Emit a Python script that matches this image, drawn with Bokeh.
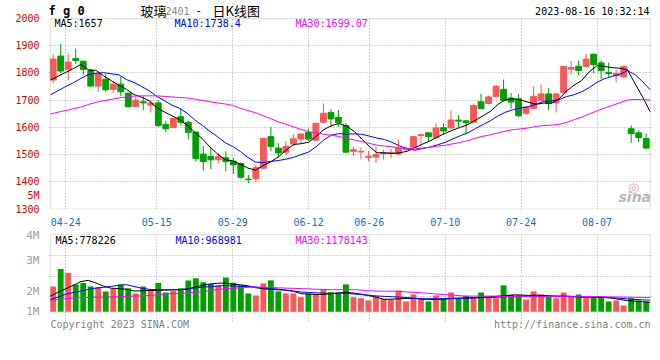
from bokeh.plotting import figure
from bokeh.layouts import column
from bokeh.models import Range1d, FixedTicker, Label, ColumnDataSource, BoxAnnotation
from bokeh.embed import file_html
from bokeh.resources import INLINE

# ---------------- data ----------------
open_ = [1774, 1862, 1814, 1853, 1843, 1809, 1752, 1777, 1740, 1759,
         1726, 1677, 1694, 1682, 1690, 1611, 1599, 1639, 1619, 1583,
         1502, 1493, 1481, 1488, 1476, 1467, 1410, 1411, 1450, 1566,
         1524, 1509, 1540, 1557, 1581, 1553, 1619, 1655, 1637, 1607,
         1512, 1510, 1490, 1491, 1503, 1504, 1502, 1520, 1527, 1570,
         1580, 1562, 1599, 1598, 1627, 1624, 1619, 1694, 1688, 1714,
         1740, 1708, 1705, 1652, 1670, 1700, 1723, 1690, 1728, 1814,
         1825, 1824, 1869, 1837, 1802, 1790, 1786, 1595, 1580, 1559]
high = [1869, 1907, 1869, 1890, 1846, 1815, 1803, 1794, 1768, 1786,
        1726, 1711, 1714, 1700, 1700, 1625, 1633, 1670, 1625, 1583,
        1532, 1530, 1506, 1512, 1488, 1470, 1426, 1462, 1560, 1601,
        1542, 1550, 1574, 1576, 1595, 1615, 1688, 1667, 1664, 1615,
        1530, 1526, 1514, 1530, 1518, 1521, 1554, 1530, 1566, 1577,
        1580, 1615, 1615, 1663, 1645, 1627, 1687, 1723, 1717, 1756,
        1776, 1726, 1723, 1675, 1750, 1758, 1744, 1726, 1827, 1845,
        1845, 1869, 1869, 1845, 1838, 1812, 1827, 1607, 1589, 1577]
low = [1762, 1798, 1774, 1833, 1794, 1748, 1730, 1732, 1726, 1714,
       1673, 1677, 1663, 1655, 1601, 1583, 1599, 1607, 1556, 1474,
       1441, 1446, 1467, 1438, 1429, 1411, 1395, 1399, 1446, 1512,
       1490, 1500, 1530, 1542, 1550, 1548, 1613, 1601, 1601, 1506,
       1496, 1482, 1476, 1470, 1482, 1488, 1500, 1512, 1524, 1536,
       1548, 1560, 1574, 1595, 1601, 1574, 1619, 1667, 1685, 1712,
       1696, 1669, 1639, 1646, 1667, 1696, 1663, 1655, 1726, 1794,
       1792, 1821, 1798, 1777, 1786, 1765, 1782, 1542, 1545, 1521]
close = [1851, 1807, 1840, 1846, 1813, 1752, 1797, 1738, 1759, 1731,
         1676, 1700, 1690, 1690, 1607, 1595, 1633, 1619, 1581, 1485,
         1474, 1481, 1492, 1474, 1462, 1417, 1408, 1452, 1560, 1530,
         1506, 1530, 1558, 1576, 1557, 1615, 1652, 1631, 1617, 1509,
         1518, 1512, 1494, 1500, 1508, 1507, 1524, 1523, 1566, 1573,
         1566, 1598, 1587, 1627, 1623, 1617, 1680, 1669, 1712, 1751,
         1699, 1693, 1643, 1675, 1714, 1723, 1688, 1723, 1824, 1820,
         1809, 1851, 1831, 1809, 1798, 1798, 1824, 1577, 1563, 1524]

ma5 = [1774, 1788, 1802, 1816, 1831.4, 1811.6, 1809.6, 1789.2, 1771.8, 1755.4,
       1740.2, 1720.8, 1711.2, 1697.4, 1672.6, 1656.4, 1643.0, 1628.8, 1607.0, 1582.6,
       1558.4, 1528.0, 1502.6, 1481.2, 1476.6, 1465.2, 1450.6, 1442.6, 1459.8, 1473.4,
       1491.2, 1515.6, 1536.8, 1540.0, 1545.4, 1567.2, 1591.6, 1606.2, 1614.4, 1604.8,
       1585.4, 1557.4, 1530.0, 1506.6, 1506.4, 1504.2, 1506.6, 1512.4, 1525.6, 1538.6,
       1550.4, 1565.2, 1578.0, 1590.2, 1600.2, 1610.4, 1626.8, 1643.2, 1660.2, 1685.8,
       1702.2, 1704.8, 1699.6, 1692.2, 1684.8, 1689.6, 1688.6, 1704.6, 1734.4, 1755.6,
       1772.8, 1805.4, 1827.0, 1824.0, 1819.6, 1817.4, 1812.0, 1761.2, 1712.0, 1657.2]
ma10 = [1720, 1735, 1750, 1764, 1780, 1794, 1799, 1801, 1797, 1793.4,
        1775.9, 1765.2, 1750.2, 1734.6, 1714.0, 1698.3, 1681.9, 1670.0, 1652.2, 1627.6,
        1607.4, 1585.5, 1565.7, 1544.1, 1529.6, 1511.8, 1489.3, 1472.6, 1470.5, 1475.0,
        1478.2, 1483.1, 1489.7, 1499.9, 1509.4, 1529.2, 1553.6, 1571.5, 1577.2, 1575.1,
        1576.3, 1574.5, 1568.1, 1560.5, 1555.6, 1544.8, 1532.0, 1521.2, 1516.1, 1522.5,
        1527.3, 1535.9, 1545.2, 1557.9, 1569.4, 1580.4, 1596.0, 1610.6, 1625.2, 1643.0,
        1656.3, 1665.8, 1671.4, 1676.2, 1685.3, 1695.9, 1696.7, 1702.1, 1713.3, 1720.2,
        1731.2, 1747.0, 1765.8, 1779.2, 1787.6, 1795.1, 1808.7, 1794.1, 1768.0, 1738.4]
ma30 = [1649, 1656, 1662, 1668, 1675, 1684, 1692, 1698, 1703, 1708,
        1712, 1715, 1716, 1716, 1716, 1714, 1712, 1710, 1708, 1704,
        1699, 1694, 1690, 1686, 1681, 1670, 1662, 1654, 1643, 1632.0,
        1620.5, 1611.3, 1601.9, 1592.9, 1584.3, 1579.8, 1574.9, 1571.4, 1566.6, 1559.2,
        1554.0, 1547.7, 1541.2, 1534.8, 1531.5, 1528.6, 1525.0, 1521.8, 1521.3, 1524.2,
        1527.3, 1531.2, 1534.3, 1539.4, 1544.8, 1551.5, 1560.5, 1567.8, 1572.8, 1580.2,
        1586.6, 1592.1, 1594.9, 1598.2, 1603.4, 1607.0, 1608.2, 1611.3, 1618.2, 1628.6,
        1638.3, 1649.6, 1660.8, 1671.1, 1680.8, 1690.5, 1700.5, 1702.3, 1702.2, 1700.5]

# volume, millions of lots
volume = [2.10, 3.54, 3.21, 2.27, 2.38, 2.10, 2.05, 1.69, 1.91, 2.27,
          1.96, 1.52, 2.10, 1.77, 2.38, 1.60, 1.75, 1.96, 2.60, 2.77,
          2.44, 2.30, 2.19, 2.85, 2.41, 2.19, 1.52, 1.35, 2.35, 2.60,
          1.69, 1.52, 1.52, 1.21, 1.52, 1.46, 1.85, 1.63, 1.50, 2.27,
          1.21, 1.13, 0.94, 1.27, 1.08, 1.02, 1.77, 0.86, 1.44, 1.08,
          0.86, 1.35, 1.08, 1.60, 1.08, 1.30, 1.21, 1.60, 1.21, 1.13,
          2.19, 1.41, 1.35, 1.02, 1.69, 1.44, 1.27, 1.13, 1.60, 1.27,
          1.44, 1.27, 1.21, 1.27, 0.86, 0.94, 0.52, 1.13, 0.94, 0.86]
vol_ma5 = [1.30, 1.62, 1.90, 2.19, 2.50, 2.60, 2.38, 2.12, 1.95, 1.92,
           1.86, 1.72, 1.74, 1.77, 1.77, 1.79, 1.82, 1.84, 1.86, 2.05,
           2.19, 2.30, 2.36, 2.38, 2.28, 2.24, 2.15, 2.00, 1.91, 1.86,
           1.82, 1.79, 1.70, 1.50, 1.47, 1.44, 1.44, 1.50, 1.57, 1.60,
           1.55, 1.45, 1.33, 1.20, 1.02, 1.05, 1.08, 1.10, 1.12, 1.05,
           1.02, 1.02, 1.05, 1.12, 1.14, 1.15, 1.18, 1.21, 1.24, 1.30,
           1.33, 1.40, 1.39, 1.36, 1.38, 1.35, 1.31, 1.28, 1.27, 1.25,
           1.22, 1.21, 1.21, 1.18, 1.12, 1.02, 0.92, 0.88, 0.84, 0.78]
vol_ma10 = [1.02, 1.22, 1.45, 1.60, 1.72, 1.85, 1.96, 2.03, 2.10, 2.20,
            2.25, 2.10, 1.95, 1.86, 1.84, 1.83, 1.83, 1.83, 1.91, 1.97,
            2.04, 2.08, 2.13, 2.18, 2.14, 2.10, 2.10, 2.05, 1.98, 1.93,
            1.88, 1.80, 1.72, 1.64, 1.60, 1.57, 1.55, 1.51, 1.54, 1.53,
            1.47, 1.42, 1.37, 1.31, 1.28, 1.25, 1.22, 1.18, 1.10, 1.08,
            1.08, 1.08, 1.09, 1.10, 1.11, 1.13, 1.15, 1.17, 1.19, 1.21,
            1.25, 1.28, 1.30, 1.30, 1.30, 1.30, 1.30, 1.30, 1.30, 1.27,
            1.24, 1.21, 1.21, 1.21, 1.17, 1.12, 1.07, 1.02, 0.99, 0.97]
vol_ma30 = [0.94, 1.02, 1.09, 1.14, 1.17, 1.19, 1.21, 1.21, 1.22, 1.24,
            1.27, 1.30, 1.32, 1.35, 1.40, 1.47, 1.51, 1.53, 1.56, 1.61,
            1.65, 1.75, 1.85, 1.92, 1.95, 1.98, 2.02, 2.05, 2.03, 2.01,
            1.99, 1.96, 1.94, 1.92, 1.90, 1.87, 1.85, 1.83, 1.83, 1.83,
            1.83, 1.80, 1.74, 1.71, 1.71, 1.71, 1.69, 1.64, 1.61, 1.57,
            1.52, 1.46, 1.42, 1.38, 1.33, 1.30, 1.30, 1.30, 1.30, 1.29,
            1.27, 1.26, 1.25, 1.25, 1.25, 1.25, 1.25, 1.25, 1.25, 1.25,
            1.25, 1.25, 1.25, 1.24, 1.23, 1.22, 1.21, 1.20, 1.19, 1.18]

tick_idx = [2, 14, 24, 34, 42, 52, 62, 72]
tick_dates = ["04-24", "05-15", "05-29", "06-12", "06-26", "07-10", "07-24", "08-07"]
price_ticks = [1300, 1400, 1500, 1600, 1700, 1800, 1900, 2000]
vol_tick_labels = ["1M", "2M", "3M", "4M"]
stray_label = "5M"

ma_labels_price = ["MA5:1657", "MA10:1738.4", "MA30:1699.07"]
ma_labels_vol = ["MA5:778226", "MA10:968981", "MA30:1178143"]

# ---------------- styling / layout ----------------
MONO = "DejaVu Sans Mono"
CJK = "Noto Sans CJK SC"
RED = "#fa5757"
GREEN = "#00a000"
GRID = "#a8a8a8"
FRAME = "#a0a0a0"
MA_COLORS = ["#000000", "#0000ff", "#ff00ff"]

n = len(close)
idx = list(range(n))
colors = [RED if c >= o else GREEN for o, c in zip(open_, close)]
src = ColumnDataSource(dict(
    x=idx, h=high, l=low,
    top=[max(o, c) for o, c in zip(open_, close)],
    bot=[min(o, c) for o, c in zip(open_, close)],
    vol=volume, color=colors))

# frame spans px 48..652; line scale (MA lines, grid) and candle scale differ slightly
LINE_RANGE = (-0.2635, n - 1 + 0.303)
CANDLE_RANGE = (-0.626, n - 1 + 0.84)
P_RANGE = (1298.2, 2066.4)      # price axis: frame px 0..214 of the top canvas
VMAX = 6.4
V_RANGE = (-4.032, 6.897)       # volume axis: frame px 228..360 of the page

FX0, FX1 = 48, 652


def X(px):
    return LINE_RANGE[0] + (px - FX0) / (FX1 - FX0) * (LINE_RANGE[1] - LINE_RANGE[0])


def Y1(py):
    return P_RANGE[1] - py / 214 * (P_RANGE[1] - P_RANGE[0])


def Y2(py):
    return V_RANGE[1] - (py - 228) / 132 * (V_RANGE[1] - V_RANGE[0])


def lab(p, x, y, text, color="black", size="10px", align="left", font=MONO, style="normal"):
    p.add_layout(Label(x=x, y=y, text=text, text_color=color, text_font_size=size,
                       text_align=align, text_baseline="middle", text_font=font,
                       text_font_style=style))


# ---------------- main (price) panel ----------------
p1 = figure(width=660, height=228, x_range=Range1d(*LINE_RANGE), y_range=Range1d(*P_RANGE),
            output_backend="svg", toolbar_location=None,
            min_border_left=FX0, min_border_right=660 - FX1, min_border_top=0, min_border_bottom=14,
            background_fill_color="white", border_fill_color="white")
p1.extra_x_ranges = {"c": Range1d(*CANDLE_RANGE)}
p1.outline_line_color = None

p1.segment(x0="x", y0="h", x1="x", y1="l", line_color="color", line_width=1,
           source=src, x_range_name="c")
p1.vbar(x="x", width=0.78, top="top", bottom="bot", fill_color="color",
        line_color="color", line_width=1, source=src, x_range_name="c")
for series, col in zip([ma5, ma10, ma30], MA_COLORS):
    p1.line(idx, series, line_color=col, line_width=1)

p1.xgrid.ticker = FixedTicker(ticks=tick_idx)
p1.xgrid.cross_bounds = (price_ticks[0], price_ticks[-1])
p1.ygrid.ticker = FixedTicker(ticks=price_ticks[1:-1])
for g in (p1.xgrid, p1.ygrid):
    g.grid_line_color = GRID
    g.grid_line_dash = "1 2"
    g.grid_line_width = 1
p1.add_layout(BoxAnnotation(left=0, right=n - 1, bottom=price_ticks[0], top=price_ticks[-1],
                            fill_color=None, line_color=FRAME, line_width=1.2))

stray_pos = round(Y1(200), 1)
y_ticks = sorted(price_ticks + [stray_pos])
y_overrides = {t: str(t) for t in price_ticks}
y_overrides[stray_pos] = stray_label
ya = p1.yaxis[0]
ya.ticker = FixedTicker(ticks=y_ticks)
ya.major_label_overrides = y_overrides
ya.axis_line_color = None
ya.major_tick_line_color = None
ya.minor_tick_line_color = None
ya.major_label_text_color = "#e00000"
ya.major_label_text_font = MONO
ya.major_label_text_font_size = "10px"
ya.major_label_standoff = 3

xa = p1.xaxis[0]
xa.ticker = FixedTicker(ticks=tick_idx)
xa.major_label_overrides = {i: d for i, d in zip(tick_idx, tick_dates)}
xa.axis_line_color = None
xa.major_tick_line_color = None
xa.minor_tick_line_color = None
xa.major_label_text_color = "#1070d0"
xa.major_label_text_font = MONO
xa.major_label_text_font_size = "10px"
xa.major_label_standoff = 2

lab(p1, X(48), Y1(10.5), "f g 0", size="12px", style="bold")
lab(p1, X(140), Y1(10), "玻璃", font=CJK, size="13px")
lab(p1, X(165), Y1(10.5), "2401", color="#888888", size="10px")
lab(p1, X(195), Y1(10), "-", font=MONO, size="11px")
lab(p1, X(212), Y1(10), "日K线图", font=CJK, size="13px")
lab(p1, X(649), Y1(11.5), "2023-08-16 10:32:14", align="right")
for t, col, px in zip(ma_labels_price, MA_COLORS, [54, 174, 295]):
    lab(p1, X(px), Y1(23.5), t, color=col)
lab(p1, X(633), Y1(191), "◎", color="#f2a0a0", size="13px", font="DejaVu Sans", align="center")
lab(p1, X(618), Y1(201), "sina", color="#b8b8b8", size="14px", font="DejaVu Sans",
    style="bold italic")

# ---------------- volume panel ----------------
p2 = figure(width=660, height=132, x_range=Range1d(*LINE_RANGE), y_range=Range1d(*V_RANGE),
            output_backend="svg", toolbar_location=None, x_axis_location=None,
            min_border_left=FX0, min_border_right=660 - FX1, min_border_top=0, min_border_bottom=0,
            background_fill_color="white", border_fill_color="white")
p2.extra_x_ranges = {"c": Range1d(*CANDLE_RANGE)}
p2.outline_line_color = None

p2.vbar(x="x", width=0.78, top="vol", bottom=0, fill_color="color", line_color=None,
        source=src, x_range_name="c")
for series, col in zip([vol_ma5, vol_ma10, vol_ma30], MA_COLORS):
    p2.line(idx, series, line_color=col, line_width=1)

p2.xgrid.ticker = FixedTicker(ticks=tick_idx)
p2.xgrid.cross_bounds = (Y2(321), VMAX)
p2.ygrid.ticker = FixedTicker(ticks=[Y2(295.7), Y2(275.7), Y2(255)])
for g in (p2.xgrid, p2.ygrid):
    g.grid_line_color = GRID
    g.grid_line_dash = "1 2"
    g.grid_line_width = 1
p2.add_layout(BoxAnnotation(left=0, right=n - 1, bottom=0, top=VMAX,
                            fill_color=None, line_color=FRAME, line_width=1.2))

vy = p2.yaxis[0]
vol_tick_pos = [0, round(Y2(290.7), 3), round(Y2(260), 3), round(Y2(231.7), 3)]
vy.ticker = FixedTicker(ticks=vol_tick_pos)
vy.major_label_overrides = {v: s for v, s in zip(vol_tick_pos, vol_tick_labels)}
vy.axis_line_color = None
vy.major_tick_line_color = None
vy.minor_tick_line_color = None
vy.major_label_text_color = "#a0a0a0"
vy.major_label_text_font = MONO
vy.major_label_text_font_size = "11px"
vy.major_label_standoff = 3

for t, col, px in zip(ma_labels_vol, MA_COLORS, [55, 175, 295]):
    lab(p2, X(px), Y2(239.5), t, color=col)
lab(p2, X(50), Y2(324), "Copyright 2023 SINA.COM", color="#808080")
lab(p2, X(650), Y2(324), "http://finance.sina.com.cn", color="#808080", align="right")

layout = column(p1, p2, spacing=0)
open("out.html", "w").write(file_html(layout, INLINE))
